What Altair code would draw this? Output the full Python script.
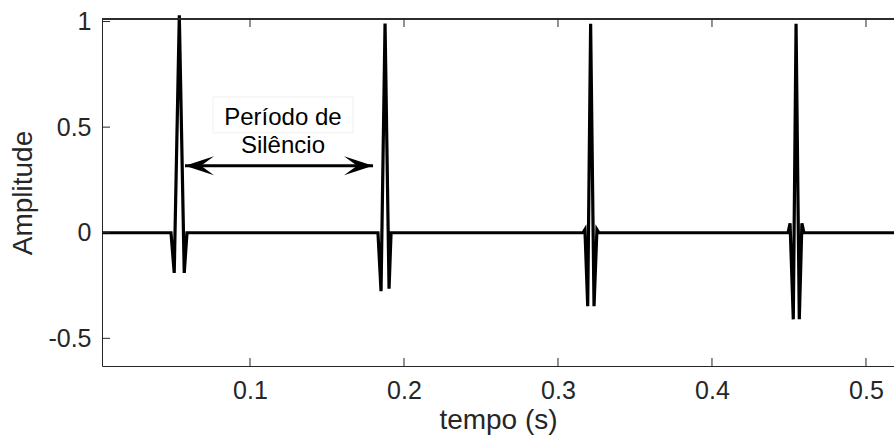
import altair as alt
import pandas as pd

# ---- data ----
x_domain = [0.0039, 0.5182]
y_domain = [-0.631, 1.012]
x_ticks = [0.1, 0.2, 0.3, 0.4, 0.5]
y_ticks = [-0.5, 0, 0.5, 1]

# signal: time (s) and amplitude points
sig_t = [0.0039,
         0.0487, 0.0508, 0.0541, 0.0573, 0.0591,
         0.1831, 0.1851, 0.1877, 0.1903, 0.1916,
         0.3162, 0.3175, 0.3193, 0.3212, 0.3234, 0.3253, 0.3266,
         0.4494, 0.4507, 0.4528, 0.4546, 0.4567, 0.4584, 0.4597,
         0.5182]
sig_a = [0.0,
         0.0, -0.19, 1.03, -0.19, 0.0,
         0.0, -0.277, 0.99, -0.265, 0.0,
         0.0, 0.015, -0.348, 0.99, -0.348, 0.015, 0.0,
         0.0, 0.045, -0.41, 0.99, -0.41, 0.045, 0.0,
         0.0]

# annotation
arrow_t = [0.0578, 0.1799]
arrow_a = 0.317
note_lines = ["Período de", "Silêncio"]
note_t = 0.1214
note_a = 0.510
box_t = [0.0760, 0.1669]
box_a = [0.473, 0.643]

W, H = 792, 347
AX = "#262626"
FONT = "Liberation Sans"

sig = pd.DataFrame({"t": sig_t, "a": sig_a})
xs = alt.Scale(domain=x_domain, nice=False, zero=False)
ys = alt.Scale(domain=y_domain, nice=False, zero=False)

base = alt.Chart(sig)

line = base.mark_line(color="black", strokeWidth=3.2, clip=False, strokeJoin="miter").encode(
    x=alt.X("t:Q", scale=xs, title="tempo (s)",
            axis=alt.Axis(values=x_ticks, labelExpr="'' + datum.value", ticks=False,
                          grid=False, domainColor=AX, domainWidth=1, labelColor=AX,
                          labelFont=FONT, labelFontSize=25, labelPadding=12,
                          titleFont=FONT, titleFontSize=28, titleFontWeight="normal",
                          titleColor=AX, titlePadding=3, labelFlush=False)),
    y=alt.Y("a:Q", scale=ys, title="Amplitude",
            axis=alt.Axis(values=y_ticks, labelExpr="'' + datum.value", ticks=False,
                          grid=False, domainColor=AX, domainWidth=1, labelColor=AX,
                          labelFont=FONT, labelFontSize=25, labelPadding=11,
                          titleFont=FONT, titleFontSize=28, titleFontWeight="normal",
                          titleColor=AX, titlePadding=10, labelFlush=False)),
)

xt = pd.DataFrame({"t": x_ticks})
yt = pd.DataFrame({"a": y_ticks})
bottom_ticks = alt.Chart(xt).mark_rule(color=AX, strokeWidth=1).encode(
    x=alt.X("t:Q", scale=xs), y=alt.value(H), y2=alt.value(H - 8))
top_ticks = alt.Chart(xt).mark_rule(color=AX, strokeWidth=1).encode(
    x=alt.X("t:Q", scale=xs), y=alt.value(0), y2=alt.value(8))
left_ticks = alt.Chart(yt).mark_rule(color=AX, strokeWidth=1).encode(
    y=alt.Y("a:Q", scale=ys), x=alt.value(0), x2=alt.value(8))
top_border = alt.Chart(xt).mark_rule(color=AX, strokeWidth=1).encode(
    x=alt.value(0), x2=alt.value(W), y=alt.value(0))

box_df = pd.DataFrame({"t1": [box_t[0]], "t2": [box_t[1]], "a1": [box_a[0]], "a2": [box_a[1]]})
box = alt.Chart(box_df).mark_rect(fill="white", stroke="#f0f0f0", strokeWidth=1).encode(
    x=alt.X("t1:Q", scale=xs), x2="t2:Q", y=alt.Y("a1:Q", scale=ys), y2="a2:Q")

note_df = pd.DataFrame({"t": [note_t], "a": [note_a], "txt": [note_lines]})
note = alt.Chart(note_df).mark_text(font=FONT, fontSize=24, color="black", align="center",
                                    baseline="alphabetic", lineHeight=28).encode(
    x=alt.X("t:Q", scale=xs), y=alt.Y("a:Q", scale=ys), text="txt")

arr_df = pd.DataFrame({"t": arrow_t, "a": [arrow_a, arrow_a]})
arrow_line = alt.Chart(arr_df).mark_line(color="black", strokeWidth=3).encode(
    x=alt.X("t:Q", scale=xs), y=alt.Y("a:Q", scale=ys))
head_l = alt.Chart(arr_df.iloc[[0]]).mark_point(
    shape="M0,0 L2,-0.66 L1.1,0 L2,0.66 Z", size=841, filled=True, color="black", opacity=1,
    strokeWidth=0).encode(x=alt.X("t:Q", scale=xs), y=alt.Y("a:Q", scale=ys))
head_r = alt.Chart(arr_df.iloc[[1]]).mark_point(
    shape="M0,0 L-2,-0.66 L-1.1,0 L-2,0.66 Z", size=841, filled=True, color="black", opacity=1,
    strokeWidth=0).encode(x=alt.X("t:Q", scale=xs), y=alt.Y("a:Q", scale=ys))

chart = alt.layer(
    box, note, line, arrow_line, head_l, head_r,
    bottom_ticks, top_ticks, left_ticks, top_border,
).properties(
    width=W, height=H,
    autosize=alt.AutoSizeParams(type="none"),
    padding={"left": 102, "top": 19, "right": 0, "bottom": 79},
    background="white",
).configure_view(stroke=None)

chart.save("out.html", embed_options={"renderer": "svg", "actions": False})
